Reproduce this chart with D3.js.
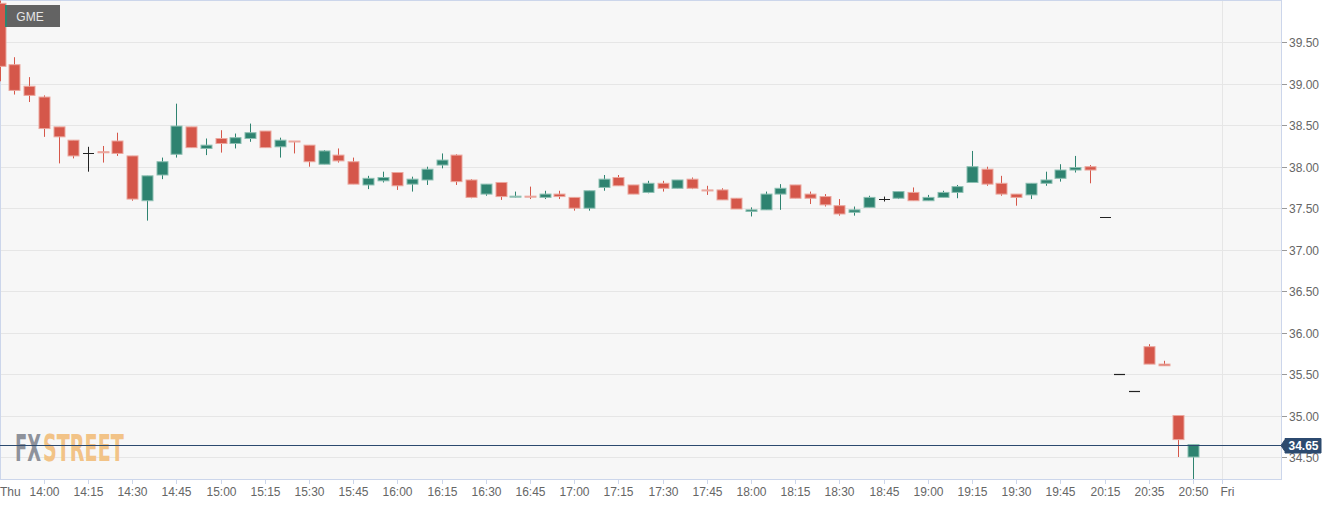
<!DOCTYPE html>
<html><head><meta charset="utf-8">
<script src="https://cdn.jsdelivr.net/npm/d3@7"></script>
<style>html,body{margin:0;padding:0;background:#fff;}svg{display:block;}</style>
</head><body>
<svg id="chart" width="1340" height="505"></svg>
<script>
// ---------- DATA ----------
const symbol = "GME";
const lastPrice = 34.65;
const times = [
 "13:45","13:50","13:55","14:00","14:05","14:10","14:15","14:20","14:25","14:30","14:35","14:40",
 "14:45","14:50","14:55","15:00","15:05","15:10","15:15","15:20","15:25","15:30","15:35","15:40",
 "15:45","15:50","15:55","16:00","16:05","16:10","16:15","16:20","16:25","16:30","16:35","16:40",
 "16:45","16:50","16:55","17:00","17:05","17:10","17:15","17:20","17:25","17:30","17:35","17:40",
 "17:45","17:50","17:55","18:00","18:05","18:10","18:15","18:20","18:25","18:30","18:35","18:40",
 "18:45","18:50","18:55","19:00","19:05","19:10","19:15","19:20","19:25","19:30","19:35","19:40",
 "19:45","19:50","19:55","20:15","20:20","20:25","20:35","20:40","20:45","20:50"];
const open = [39.97,39.23,38.97,38.84,38.48,38.32,38.17,38.18,38.31,38.13,37.59,37.90,
 38.15,38.48,38.22,38.34,38.28,38.34,38.43,38.24,38.31,38.26,38.03,38.14,
 38.06,37.78,37.83,37.93,37.79,37.84,38.02,38.14,37.84,37.67,37.81,37.64,
 37.645,37.63,37.67,37.63,37.50,37.75,37.87,37.78,37.69,37.80,37.74,37.85,
 37.72,37.72,37.62,37.46,37.48,37.67,37.78,37.67,37.64,37.53,37.45,37.51,
 37.61,37.62,37.69,37.59,37.63,37.69,37.81,37.97,37.80,37.67,37.66,37.80,
 37.86,37.96,38.00,37.39,35.50,35.29,35.83,35.62,35.00,34.50];
const high = [40.05,39.32,39.08,38.86,38.48,38.32,38.24,38.25,38.41,38.13,37.89,38.11,
 38.76,38.48,38.34,38.44,38.40,38.52,38.43,38.35,38.31,38.26,38.20,38.22,
 38.11,37.89,37.94,37.93,37.88,38.00,38.16,38.15,37.85,37.79,37.81,37.70,
 37.76,37.71,37.71,37.63,37.71,37.90,37.90,37.78,37.83,37.83,37.84,37.87,
 37.77,37.74,37.62,37.51,37.70,37.79,37.78,37.70,37.67,37.61,37.52,37.65,
 37.64,37.70,37.75,37.66,37.71,37.78,38.19,38.00,37.89,37.67,37.80,37.94,
 38.03,38.13,38.02,37.39,35.50,35.29,35.86,35.66,35.00,34.65];
const low = [39.03,38.87,38.78,38.36,38.04,38.10,37.94,38.05,38.13,37.59,37.35,37.85,
 38.11,38.23,38.14,38.17,38.22,38.30,38.23,38.11,38.16,38.00,38.03,38.05,
 37.79,37.73,37.81,37.72,37.70,37.78,37.98,37.78,37.62,37.65,37.60,37.63,
 37.61,37.61,37.61,37.47,37.47,37.71,37.77,37.67,37.68,37.70,37.74,37.73,
 37.66,37.60,37.49,37.40,37.48,37.48,37.62,37.55,37.52,37.41,37.41,37.51,
 37.58,37.61,37.59,37.59,37.63,37.62,37.81,37.77,37.65,37.53,37.61,37.77,
 37.82,37.93,37.80,37.39,35.50,35.29,35.62,35.60,34.50,34.20];
const close = [39.21,38.92,38.86,38.46,38.36,38.13,38.17,38.17,38.16,37.61,37.89,38.06,
 38.49,38.23,38.26,38.28,38.35,38.41,38.23,38.32,38.30,38.06,38.19,38.07,
 37.79,37.86,37.87,37.77,37.85,37.97,38.08,37.82,37.63,37.79,37.64,37.645,
 37.64,37.67,37.64,37.50,37.71,37.85,37.77,37.67,37.80,37.74,37.84,37.74,
 37.71,37.60,37.49,37.48,37.67,37.74,37.62,37.62,37.54,37.43,37.48,37.63,
 37.61,37.70,37.59,37.63,37.69,37.76,38.00,37.79,37.67,37.63,37.80,37.84,
 37.96,37.99,37.96,37.39,35.50,35.29,35.62,35.60,34.71,34.65];
const xTickIndex = [0,3,6,9,12,15,18,21,24,27,30,33,36,39,42,45,48,51,54,57,60,63,66,69,72,75,78,81,83];
const xTickLabels = ["Thu","14:00","14:15","14:30","14:45","15:00","15:15","15:30","15:45","16:00",
 "16:15","16:30","16:45","17:00","17:15","17:30","17:45","18:00","18:15","18:30","18:45","19:00",
 "19:15","19:30","19:45","20:15","20:35","20:50","Fri"];
const yTicks = [34.5,35,35.5,36,36.5,37,37.5,38,38.5,39,39.5];
const yTickLabels = ["34.50","35.00","35.50","36.00","36.50","37.00","37.50","38.00","38.50","39.00","39.50"];
const dayBreakIndex = [83];

// ---------- LAYOUT ----------
const W = 1340, H = 505;
const plot = {left:0, top:0, right:1281, bottom:479};
const svg = d3.select("#chart");
const font = "'Liberation Sans', Arial, sans-serif";

const x = d3.scaleLinear().domain([3, 81]).range([43.8, 1193]);
const y = d3.scaleLinear().domain([34.5, 39.5]).range([457, 42.3]);

const UP = "#2e8370", UPS = "#8cbfb2", DN = "#d5574a", DNS = "#eba79e", DOJI = "#222";

svg.append("rect").attr("width", W).attr("height", H).attr("fill", "#fff");
svg.append("rect").attr("x", plot.left).attr("y", plot.top)
  .attr("width", plot.right - plot.left).attr("height", plot.bottom - plot.top).attr("fill", "#f7f7f7");

svg.append("defs").append("clipPath").attr("id", "clip")
  .append("rect").attr("x", 0).attr("y", 0.5).attr("width", plot.right).attr("height", plot.bottom - 0.5);

// grid
const grid = svg.append("g");
grid.selectAll("line.h").data(yTicks).join("line")
  .attr("x1", 0).attr("x2", plot.right)
  .attr("y1", d => Math.round(y(d)) + 0.5).attr("y2", d => Math.round(y(d)) + 0.5)
  .attr("stroke", "#e6e6e6");
grid.selectAll("line.v").data(dayBreakIndex).join("line")
  .attr("x1", d => Math.round(x(d)) + 0.5).attr("x2", d => Math.round(x(d)) + 0.5)
  .attr("y1", 0).attr("y2", plot.bottom).attr("stroke", "#e6e6e6");

// watermark (each part scaled horizontally to its box)
const wmParts = [{t:"FX", x0:15, w:26, c:"#8e929b"}, {t:"STREET", x0:43, w:81, c:"#f2c387"}];
wmParts.forEach(p => {
  const t = svg.append("text")
    .attr("font-family", "'Liberation Sans Narrow','DejaVu Sans Condensed','Liberation Sans',sans-serif")
    .attr("font-weight", "bold").attr("font-size", 37).attr("fill", p.c).attr("x", 0).attr("y", 0).text(p.t);
  const bw = t.node().getBBox().width || 1;
  t.attr("transform", `translate(${p.x0},461) scale(${p.w / bw},1)`);
});

// borders
svg.append("line").attr("x1", 0).attr("x2", plot.right + 1).attr("y1", 0.5).attr("y2", 0.5).attr("stroke", "#ccd6eb");
svg.append("line").attr("x1", 0.5).attr("x2", 0.5).attr("y1", 0).attr("y2", plot.bottom).attr("stroke", "#ccd6eb");
svg.append("line").attr("x1", plot.right + 0.5).attr("x2", plot.right + 0.5).attr("y1", 0).attr("y2", plot.bottom + 1).attr("stroke", "#ccd6eb");
svg.append("line").attr("x1", 0).attr("x2", plot.right + 1).attr("y1", plot.bottom + 0.5).attr("y2", plot.bottom + 0.5).attr("stroke", "#ccd6eb");

// candles
const data = times.map((t, i) => ({i, t, o: open[i], h: high[i], l: low[i], c: close[i]}));
const cg = svg.append("g").attr("clip-path", "url(#clip)");
data.forEach(d => {
  const cx = Math.round(x(d.i));
  const doji = d.o === d.c;
  const up = d.c > d.o;
  const col = doji ? DOJI : (up ? UP : DN);
  const scol = doji ? DOJI : (up ? UPS : DNS);
  cg.append("line").attr("x1", cx + 0.5).attr("x2", cx + 0.5)
    .attr("y1", y(d.h)).attr("y2", y(d.l)).attr("stroke", col).attr("stroke-width", 1);
  if (doji) {
    cg.append("line").attr("x1", cx - 5).attr("x2", cx + 6)
      .attr("y1", Math.round(y(d.o)) + 0.5).attr("y2", Math.round(y(d.o)) + 0.5)
      .attr("stroke", col).attr("stroke-width", 1.2);
  } else {
    const top = y(Math.max(d.o, d.c)), bot = y(Math.min(d.o, d.c));
    const hgt = Math.max(bot - top, 1);
    cg.append("rect").attr("x", cx - 5).attr("y", top).attr("width", 11).attr("height", hgt)
      .attr("fill", col).attr("stroke", scol).attr("stroke-width", 1);
  }
});

// last price line
const ly = Math.round(y(lastPrice)) + 0.5;
svg.append("line").attr("x1", 0).attr("x2", plot.right).attr("y1", ly).attr("y2", ly)
  .attr("stroke", "#2c4a6f").attr("stroke-width", 1);

// y axis
const ya = svg.append("g");
yTicks.forEach((v, k) => {
  const yy = Math.round(y(v)) + 0.5;
  ya.append("line").attr("x1", plot.right + 1).attr("x2", plot.right + 6).attr("y1", yy).attr("y2", yy).attr("stroke", "#999");
  ya.append("text").attr("x", 1289).attr("y", yy + 4).attr("font-family", font).attr("font-size", 12)
    .attr("fill", "#666").text(yTickLabels[k]);
});

// price label
const lbl = svg.append("g");
lbl.append("path")
  .attr("d", `M1281,${ly} L1285,${ly - 6} L1285,${ly - 7} L1321,${ly - 7} L1321,${ly + 7.5} L1285,${ly + 7.5} L1285,${ly + 6} Z`)
  .attr("fill", "#2c4a6f").attr("stroke", "#2c4a6f").attr("stroke-width", 1);
lbl.append("text").attr("x", 1303.5).attr("y", ly + 4.5).attr("text-anchor", "middle")
  .attr("font-family", font).attr("font-size", 12).attr("font-weight", "bold").attr("fill", "#fff")
  .text(lastPrice.toFixed(2));

// x axis
const xa = svg.append("g");
xTickIndex.forEach((idx, k) => {
  const xx = Math.round(x(idx)) + 0.5;
  if (idx > 0) xa.append("line").attr("x1", xx).attr("x2", xx).attr("y1", plot.bottom + 1).attr("y2", plot.bottom + 5).attr("stroke", "#ccd6eb");
  xa.append("text").attr("x", idx === 0 ? 0 : xx).attr("y", 496)
    .attr("text-anchor", idx === 0 ? "start" : (idx === 83 ? "start" : "middle"))
    .attr("dx", idx === 83 ? -2 : 0)
    .attr("font-family", font).attr("font-size", 12).attr("fill", "#666").text(xTickLabels[k]);
});

// symbol badge
const badge = svg.append("g");
badge.append("rect").attr("x", 5).attr("y", 5).attr("width", 55).attr("height", 22).attr("fill", "#636363");
badge.append("rect").attr("x", 5).attr("y", 5).attr("width", 2).attr("height", 22).attr("fill", UP);
badge.append("text").attr("x", 30).attr("y", 20.5).attr("text-anchor", "middle")
  .attr("font-family", font).attr("font-size", 12).attr("fill", "#e6e6e6").text(symbol);
</script>
</body></html>
